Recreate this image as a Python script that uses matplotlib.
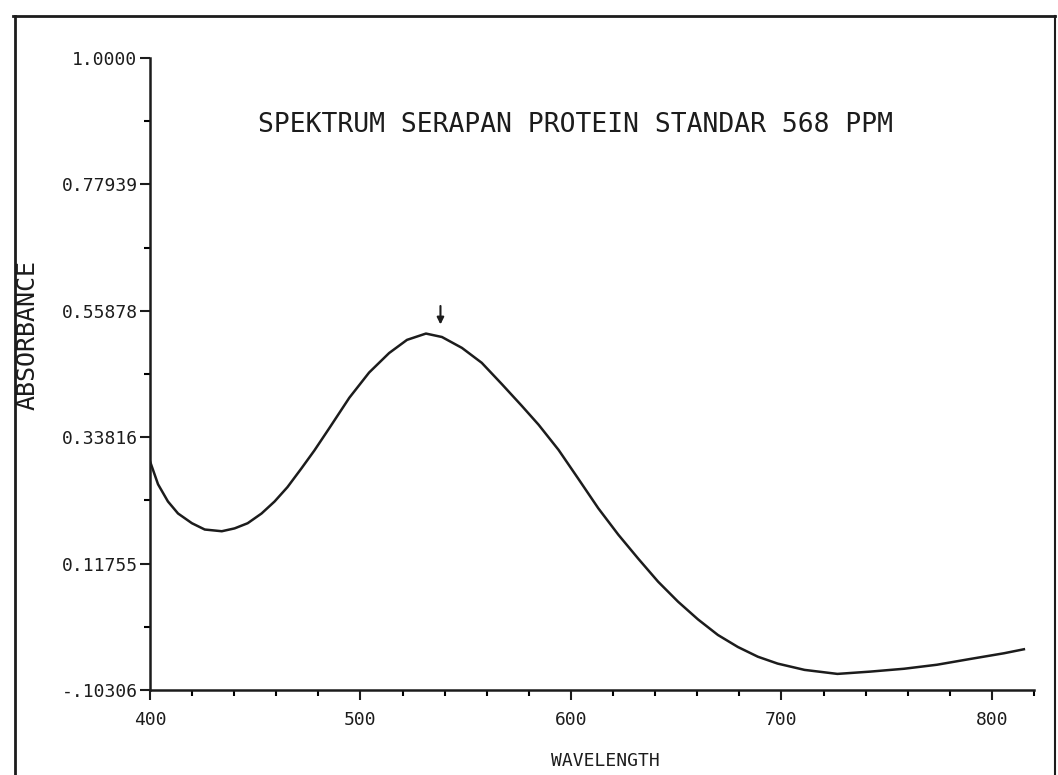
import matplotlib.pyplot as plt
from matplotlib.lines import Line2D

# spectrum (wavelength nm, absorbance)
wavelength = [400, 403.8, 408.5, 413.3, 419.9, 426.0, 434.1, 440.2, 446.4, 453.0,
              459.2, 465.3, 472.0, 478.1, 485.2, 494.7, 504.1, 513.6, 522.1, 531.1,
              538.7, 548.2, 557.6, 567.1, 576.6, 584.6, 594.1, 603.6, 613.0, 622.5,
              632.0, 641.4, 650.9, 660.4, 669.8, 679.3, 688.8, 698.2, 711.0, 726.6,
              742.2, 758.3, 773.9, 789.6, 805.7, 815.2]
absorbance = [0.296, 0.256, 0.226, 0.205, 0.188, 0.177, 0.174, 0.179, 0.188, 0.205,
              0.226, 0.251, 0.284, 0.315, 0.354, 0.407, 0.451, 0.485, 0.508, 0.519,
              0.513, 0.494, 0.468, 0.431, 0.393, 0.360, 0.316, 0.265, 0.214, 0.168,
              0.126, 0.086, 0.051, 0.020, -0.007, -0.028, -0.045, -0.057, -0.068, -0.075,
              -0.071, -0.066, -0.059, -0.049, -0.039, -0.032]

y_ticks = [-0.10306, 0.11755, 0.33816, 0.55878, 0.77939, 1.0]
y_labels = ['-.10306', '0.11755', '0.33816', '0.55878', '0.77939', '1.0000']
x_ticks = [400, 500, 600, 700, 800]
peak_wl = 538

ink = '#1c1c1c'
mono = 'DejaVu Sans Mono'

fig = plt.figure(figsize=(10.58, 7.75), dpi=100)
ax = fig.add_axes([0.1418, 0.1097, 0.8355, 0.8155])

ax.plot(wavelength, absorbance, color=ink, lw=1.8, solid_joinstyle='round')
ax.annotate('', xy=(peak_wl, 0.530), xytext=(peak_wl, 0.572),
            arrowprops=dict(arrowstyle='-|>', color=ink, lw=1.5, mutation_scale=10))

ax.set_xlim(400, 820)
ax.set_ylim(y_ticks[0], y_ticks[-1])
ax.set_xticks(x_ticks)
ax.set_xticks(range(400, 821, 20), minor=True)
ax.set_yticks(y_ticks)
ax.set_yticks([(a + b) / 2 for a, b in zip(y_ticks[:-1], y_ticks[1:])], minor=True)
ax.set_yticklabels(y_labels)
ax.tick_params(colors=ink, labelsize=13, width=1.5, length=7, direction='out')
ax.tick_params(axis='y', pad=2)
ax.tick_params(axis='x', pad=8)
ax.tick_params(which='minor', width=1.5, length=4, direction='out')
for lab in ax.get_xticklabels() + ax.get_yticklabels():
    lab.set_family(mono)

for side in ['top', 'right']:
    ax.spines[side].set_visible(False)
for side in ['left', 'bottom']:
    ax.spines[side].set_color(ink)
    ax.spines[side].set_linewidth(1.8)

fig.text(0.5435, 0.839, 'SPEKTRUM SERAPAN PROTEIN STANDAR 568 PPM', family=mono,
         fontsize=19, color=ink, ha='center', va='center')
fig.text(0.572, 0.018, 'WAVELENGTH', family=mono, fontsize=13, color=ink,
         ha='center', va='center')
fig.text(0.026, 0.568, 'ABSORBANCE', family=mono, fontsize=18, color=ink,
         ha='center', va='center', rotation=90)

# outer frame of the printout
fig.add_artist(Line2D([0.012, 0.997], [0.979, 0.979], color=ink, lw=2))
fig.add_artist(Line2D([0.014, 0.014], [0.0, 0.979], color=ink, lw=2))
fig.add_artist(Line2D([0.997, 0.997], [0.0, 0.979], color=ink, lw=1.5))

fig.savefig('out.png', dpi=100)
